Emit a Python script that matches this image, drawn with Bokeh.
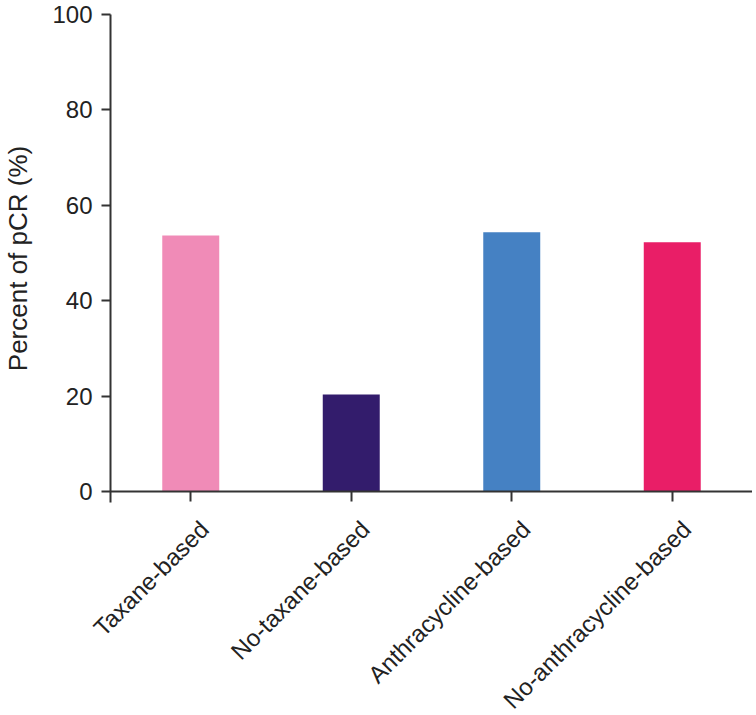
from bokeh.plotting import figure
from bokeh.models import FixedTicker, Range1d, ColumnDataSource
from bokeh.embed import file_html
from bokeh.resources import INLINE

categories = ["Taxane-based", "No-taxane-based", "Anthracycline-based", "No-anthracycline-based"]
values = [53.7, 20.4, 54.4, 52.3]
colors = ["#F08BB7", "#331C6C", "#4581C3", "#E91E67"]
y_ticks = [0, 20, 40, 60, 80, 100]

xs = list(range(len(categories)))
src = ColumnDataSource(dict(x=xs, top=values, color=colors, name=categories, ytop=[1] * len(xs)))

W = 752
LEFT = 109
FONT = "Liberation Sans"
AX = "#333333"

p = figure(width=W, height=506, output_backend="svg", toolbar_location=None,
           x_range=Range1d(-0.5, len(categories) - 0.5), y_range=Range1d(-2.2, 100),
           min_border_left=LEFT, min_border_right=0, min_border_top=14, min_border_bottom=4)
p.vbar(x="x", top="top", bottom=0, width=0.355, color="color", source=src, line_color=None)

p.xgrid.visible = False
p.ygrid.visible = False
p.outline_line_color = None
p.background_fill_color = "white"
p.border_fill_color = "white"

xa = p.xaxis[0]
xa.fixed_location = 0
xa.ticker = FixedTicker(ticks=xs)
xa.major_label_overrides = {t: "" for t in xs}
xa.major_label_text_font_size = "1px"
xa.major_label_standoff = 0
xa.axis_line_color = AX
xa.axis_line_width = 2
xa.major_tick_line_color = AX
xa.major_tick_line_width = 2
xa.major_tick_out = 10
xa.major_tick_in = 0
xa.minor_tick_line_color = None

ya = p.yaxis[0]
ya.ticker = FixedTicker(ticks=y_ticks)
ya.axis_label = "Percent of pCR (%)"
ya.axis_label_text_font = FONT
ya.axis_label_text_font_size = "26px"
ya.axis_label_text_font_style = "normal"
ya.axis_label_text_color = "#222222"
ya.axis_label_standoff = 16
ya.major_label_text_font = FONT
ya.major_label_text_font_size = "24px"
ya.major_label_text_color = "#222222"
ya.major_label_standoff = 9
ya.axis_line_color = AX
ya.axis_line_width = 2
ya.major_tick_line_color = AX
ya.major_tick_line_width = 2
ya.major_tick_out = 9
ya.major_tick_in = 0
ya.minor_tick_line_color = None

# strip below the plot carrying the rotated category labels (same x scale)
n = len(categories)
ppu = (W - LEFT) / n
p2 = figure(width=W, height=207, output_backend="svg", toolbar_location=None,
            x_range=Range1d(-0.5 - LEFT / ppu, n - 0.5), y_range=Range1d(0, 1),
            x_axis_location=None, y_axis_location=None,
            min_border_left=0, min_border_right=0, min_border_top=0, min_border_bottom=0)
p2.xgrid.visible = False
p2.ygrid.visible = False
p2.outline_line_color = None
p2.background_fill_color = "white"
p2.border_fill_color = "white"
p2.text(x="x", y="ytop", text="name", source=src, angle=0.785398,
        text_align="right", text_baseline="top", x_offset=5, y_offset=9,
        text_font={"value": FONT}, text_font_size="24px", text_color="#222222")

open("out.html", "w").write(file_html([p, p2], INLINE))
